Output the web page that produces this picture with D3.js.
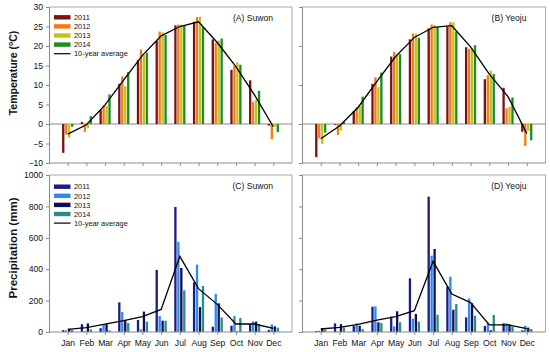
<!DOCTYPE html>
<html><head><meta charset="utf-8">
<script src="https://cdn.jsdelivr.net/npm/d3@7"></script>
<style>body{margin:0;background:#fff;} svg{display:block;font-family:"Liberation Sans",Arial,sans-serif;}</style>
</head><body><svg id="c" width="550" height="352"></svg>
<script>
const months = ["Jan","Feb","Mar","Apr","May","Jun","Jul","Aug","Sep","Oct","Nov","Dec"];
const years = ["2011","2012","2013","2014"];
const avgLabel = "10-year average";
const tempTicks = [-10,-5,0,5,10,15,20,25,30];
const precTicks = [0,200,400,600,800,1000];

// Temperature (°C) — Suwon
const tSuwon2011 = [-7.4, 0.5, 3.6, 10.3, 16.4, 21.3, 25.3, 26.2, 21.7, 13.9, 11.2, -0.4];
const tSuwon2012 = [-2.7, -2.0, 4.8, 12.2, 19.1, 23.7, 25.5, 27.4, 20.8, 14.9, 5.7, -3.9];
const tSuwon2013 = [-3.5, -1.1, 4.7, 9.7, 17.7, 23.5, 25.5, 27.5, 21.4, 15.8, 6.2, -0.7];
const tSuwon2014 = [-0.7, 2.0, 7.6, 13.3, 18.3, 22.8, 25.3, 24.8, 21.9, 15.2, 8.5, -2.1];
const tSuwonAvg  = [-2.6, -0.2, 4.9, 11.3, 17.6, 22.6, 25.0, 26.2, 20.9, 14.7, 7.4, -0.7];
// Temperature (°C) — Yeoju
const tYeoju2011 = [-8.5, -0.2, 3.3, 10.3, 17.3, 21.7, 24.5, 25.0, 19.7, 11.5, 9.3, -2.0];
const tYeoju2012 = [-3.7, -2.8, 4.3, 12.0, 18.5, 23.2, 25.5, 26.1, 19.3, 12.5, 4.0, -5.6];
const tYeoju2013 = [-5.1, -1.7, 4.6, 9.4, 17.9, 23.2, 25.3, 26.1, 19.4, 13.7, 4.4, -1.8];
const tYeoju2014 = [-2.2, 0.5, 7.0, 13.2, 17.9, 22.1, 24.8, 23.7, 20.2, 12.8, 6.8, -4.2];
const tYeojuAvg  = [-3.8, -0.5, 4.3, 10.9, 17.3, 22.2, 24.8, 25.2, 19.8, 12.8, 7.0, -2.4];
// Precipitation (mm) — Suwon
const pSuwon2011 = [12, 50, 24, 189, 76, 395, 796, 316, 34, 40, 49, 13];
const pSuwon2012 = [10, 5, 47, 127, 17, 102, 575, 429, 242, 102, 68, 49];
const pSuwon2013 = [20, 55, 50, 72, 130, 72, 408, 159, 183, 4, 66, 36];
const pSuwon2014 = [13, 17, 10, 57, 66, 72, 265, 293, 93, 89, 49, 28];
const pSuwonAvg  = [17, 28, 50, 72, 98, 144, 482, 276, 176, 51, 51, 23];
// Precipitation (mm) — Yeoju
const pYeoju2011 = [6, 55, 38, 161, 98, 342, 862, 289, 93, 38, 55, 11];
const pYeoju2012 = [8, 3, 55, 163, 36, 85, 486, 352, 214, 59, 55, 40];
const pYeoju2013 = [23, 50, 40, 62, 132, 115, 529, 142, 183, 11, 49, 28];
const pYeoju2014 = [15, 28, 19, 57, 62, 66, 110, 178, 104, 108, 34, 19];
const pYeojuAvg  = [19, 30, 49, 76, 98, 136, 450, 242, 187, 45, 45, 21];

const tempColors = ["#7f1010","#f07d14","#c2c21a","#1f8c1f"];
const precColors = ["#1c1c86","#2b8cf0","#101050","#2a8c88"];

const svg = d3.select("#c");
const axisColor = "#8a8a8a";
const frameColor = "#a8a8a8";

function panel(opts){
  const {x0,x1,y,series,avg,colors,yTicks,showYLabels,showMonths,label,legend,zeroLine} = opts;
  const x = d3.scaleLinear().domain([0,13]).range([x0,x1]);
  const inner = d3.scaleBand().domain(years).range([-5.6,5.6]).paddingInner(0.22);
  const g = svg.append("g");
  const [yb, yt] = y.range();
  g.append("path").attr("d",`M${x0},${yt}H${x1}V${yb}`).attr("fill","none").attr("stroke",frameColor).attr("stroke-width",1);
  if(zeroLine) g.append("line").attr("x1",x0).attr("x2",x1).attr("y1",y(0)).attr("y2",y(0)).attr("stroke",axisColor).attr("stroke-width",1);
  years.forEach((yr,i)=>{
    g.append("g").selectAll("rect").data(series[i]).join("rect")
      .attr("x",(d,j)=>x(j+1)+inner(yr))
      .attr("width",inner.bandwidth())
      .attr("y",d=>Math.min(y(d),y(0)))
      .attr("height",d=>Math.abs(y(d)-y(0)))
      .attr("fill",colors[i]);
  });
  g.append("path").datum(avg)
    .attr("d",d3.line().x((d,j)=>x(j+1)).y(d=>y(d)))
    .attr("fill","none").attr("stroke","#000").attr("stroke-width",1.3);
  const ya = d3.axisLeft(y).tickValues(yTicks).tickSize(3).tickPadding(3)
    .tickFormat(showYLabels? d3.format("d") : "");
  const yg = g.append("g").attr("transform",`translate(${x0},0)`).call(ya);
  yg.select(".domain").attr("stroke",axisColor);
  yg.selectAll(".tick line").attr("stroke",axisColor);
  yg.selectAll("text").attr("font-size","8.6px").attr("fill","#111").attr("font-family","Liberation Sans, Arial, sans-serif");
  const xa = d3.axisBottom(x).tickValues(d3.range(1,13)).tickSize(3).tickPadding(5)
    .tickFormat(showMonths? (d=>months[d-1]) : "");
  const xg = g.append("g").attr("transform",`translate(0,${yb})`).call(xa);
  xg.select(".domain").attr("stroke",axisColor).attr("d",`M${x0},0H${x1}`);
  xg.selectAll(".tick line").attr("stroke",axisColor);
  xg.selectAll("text").attr("font-size","8.6px").attr("fill","#111").attr("font-family","Liberation Sans, Arial, sans-serif");
  g.append("text").attr("x",x1-19).attr("y",yt+13.5).attr("text-anchor","end")
    .attr("font-size","8.6px").attr("fill","#111").text(label);
  if(legend){
    const lg = g.append("g").attr("font-size","7.4px").attr("fill","#111");
    const ly0 = legend;
    years.forEach((yr,i)=>{
      const yy = ly0 + i*9.1;
      lg.append("rect").attr("x",54).attr("y",yy-2.2).attr("width",16.5).attr("height",4.4).attr("fill",colors[i]);
      lg.append("text").attr("x",74).attr("y",yy+2.7).text(yr);
    });
    const yy = ly0 + 4*9.1;
    lg.append("line").attr("x1",54).attr("x2",70.5).attr("y1",yy).attr("y2",yy).attr("stroke","#000").attr("stroke-width",1.2);
    lg.append("text").attr("x",74).attr("y",yy+2.7).text(avgLabel);
  }
}

const yT = d3.scaleLinear().domain([-10,30]).range([163,7]);
const yT2 = d3.scaleLinear().domain([-10,30]).range([163,7]);
const yP = d3.scaleLinear().domain([0,1000]).range([332,175]);
const yP2 = d3.scaleLinear().domain([0,1000]).range([332,175]);

panel({x0:49,x1:292,y:yT,series:[tSuwon2011,tSuwon2012,tSuwon2013,tSuwon2014],avg:tSuwonAvg,colors:tempColors,
  yTicks:tempTicks,showYLabels:true,showMonths:false,label:"(A) Suwon",legend:17.3,zeroLine:true});
panel({x0:302,x1:545.5,y:yT2,series:[tYeoju2011,tYeoju2012,tYeoju2013,tYeoju2014],avg:tYeojuAvg,colors:tempColors,
  yTicks:[-10,0,10,20,30],showYLabels:false,showMonths:false,label:"(B) Yeoju",legend:null,zeroLine:true});
panel({x0:49,x1:292,y:yP,series:[pSuwon2011,pSuwon2012,pSuwon2013,pSuwon2014],avg:pSuwonAvg,colors:precColors,
  yTicks:precTicks,showYLabels:true,showMonths:true,label:"(C) Suwon",legend:186.7,zeroLine:false});
panel({x0:302,x1:545.5,y:yP2,series:[pYeoju2011,pYeoju2012,pYeoju2013,pYeoju2014],avg:pYeojuAvg,colors:precColors,
  yTicks:precTicks,showYLabels:false,showMonths:true,label:"(D) Yeoju",legend:null,zeroLine:false});

const t1 = svg.append("text").attr("transform","translate(16.5,73) rotate(-90)").attr("text-anchor","middle")
  .attr("font-size","10.5px").attr("font-weight","bold").attr("fill","#111");
t1.append("tspan").text("Temperature (");
t1.append("tspan").attr("font-size","7px").attr("dy","-4").text("o");
t1.append("tspan").attr("dy","4").text("C)");
svg.append("text").attr("transform","translate(16.5,248) rotate(-90)").attr("text-anchor","middle")
  .attr("font-size","11.5px").attr("font-weight","bold").attr("fill","#111").text("Precipitation (mm)");
</script></body></html>
